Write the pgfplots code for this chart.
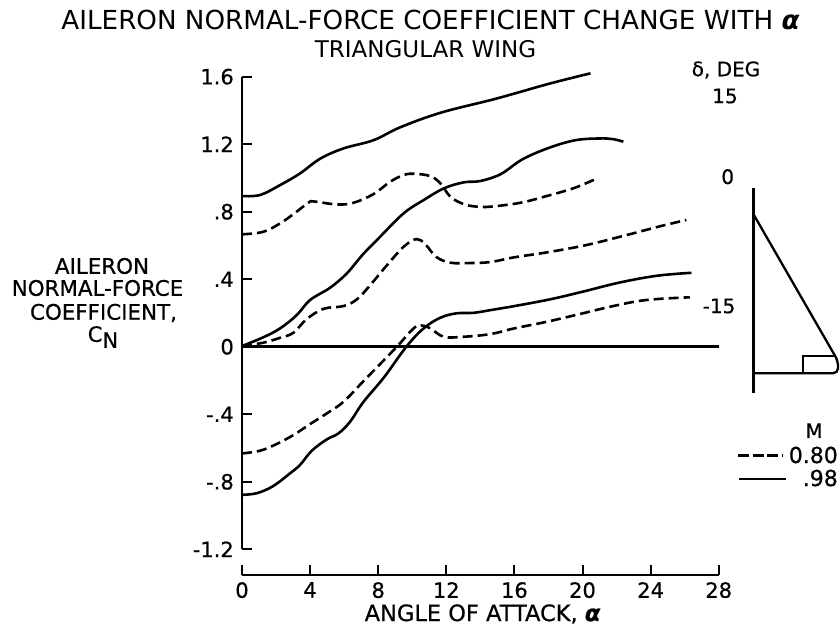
\documentclass[border=0pt]{standalone}
\usepackage{pgfplots}
\pgfplotsset{compat=1.18}
\usepackage{fontspec}
\setmainfont{DejaVu Sans}
\newfontfamily\hv[FakeBold=0.6]{DejaVu Sans}
\newcommand{\al}{{\bfseries\itshape α}}
\tikzset{px/.style={inner sep=0pt,font=\hv\fontsize{20}{22}\selectfont,anchor=center}}
\newcommand{\PX}[3]{\node[px] at (#1pt,{631pt-#2pt}) {#3};}
\begin{document}
\begin{tikzpicture}[x=1pt,y=1pt]
\path[use as bounding box] (0pt,0pt) rectangle (840pt,631pt);
\begin{axis}[
  at={(242pt,81.7pt)},anchor=south west,scale only axis,width=476.7pt,height=472.6pt,
  xmin=0,xmax=28,ymin=-1.2,ymax=1.6,
  axis y line=left,axis x line=none,axis line style={-,line width=2.6pt},
  ytick={-1.2,-0.8,-0.4,0,0.4,0.8,1.2,1.6},
  yticklabels={-1.2,-.8,-.4,0,.4,.8,1.2,1.6},
  tick align=inside,major tick length=10pt,
  tick style={line width=2pt,black},
  yticklabel style={font=\hv\fontsize{21}{22}\selectfont,inner sep=0pt,xshift=-8pt},
  clip=false,
  every axis plot/.append style={line width=2.6pt,black,no marks},
  sol/.style={smooth,tension=0.6},
  das/.style={smooth,tension=0.6,dash pattern=on 10pt off 5pt},
]
% zero line
\addplot[black] coordinates {(0,0) (28,0)};
% delta = 15, M = .98
\addplot[sol] coordinates {(0,.893) (1.06,.899) (2.24,.958) (3.41,1.027) (4.59,1.114) (5.96,1.175) (7.73,1.224) (9.29,1.30) (11.65,1.386) (14.59,1.461) (16.0,1.50) (18.1,1.56) (20.47,1.62)};
% delta = 15, M = .80
\addplot[das] coordinates {(0,.666) (1.25,.681) (2.24,.731) (3.02,.786) (3.9,.853) (4.2,.861) (5.57,.843) (6.55,.853) (7.73,.905) (8.71,.978) (9.49,1.017) (10.08,1.025) (11.06,1.011) (11.65,.968) (12.24,.889) (13.02,.845) (13.8,.83) (14.59,.83) (16.35,.853) (17.9,.893) (19.5,.94) (20.8,.995)};
% delta = 0, M = .98
\addplot[sol] coordinates {(0,.004) (1.25,.056) (2.24,.109) (3.22,.188) (4.0,.277) (5.18,.35) (6.16,.435) (7.1,.547) (8.0,.64) (9.49,.79) (10.67,.869) (11.85,.938) (13.02,.974) (14,.982) (15.2,1.023) (16.5,1.112) (18.1,1.181) (19.6,1.224) (21,1.234) (21.8,1.23) (22.4,1.215)};
% delta = 0, M = .80
\addplot[das] coordinates {(0,.004) (1.25,.024) (2.24,.053) (3.02,.083) (3.8,.164) (4.8,.225) (5.96,.241) (6.75,.281) (7.53,.365) (8.52,.484) (9.49,.592) (10.24,.638) (10.76,.608) (11.4,.533) (12.24,.498) (13.4,.496) (14.59,.502) (16,.53) (17.9,.559) (20.2,.602) (22.6,.662) (24.6,.715) (26.1,.751)};
% delta = -15, M = .98
\addplot[sol] coordinates {(0,-.877) (.86,-.868) (1.84,-.825) (2.82,-.75) (3.41,-.70) (4.1,-.616) (4.98,-.549) (5.67,-.513) (6.35,-.444) (7.14,-.326) (8.35,-.18) (9.65,0) (10.67,.109) (11.65,.172) (12.6,.198) (13.6,.201) (14.59,.217) (16,.241) (18.1,.281) (20,.326) (22.2,.381) (24.4,.421) (26.4,.438)};
% delta = -15, M = .80
\addplot[das] coordinates {(0,-.632) (1.06,-.616) (2.04,-.576) (3.02,-.523) (4,-.458) (4.98,-.395) (5.96,-.326) (7.2,-.197) (9,-.01) (10.08,.109) (10.5,.127) (11.06,.109) (11.85,.059) (13,.059) (14.59,.075) (16,.109) (17.9,.148) (19.85,.194) (21.8,.241) (23.75,.277) (26.3,.293)};
\end{axis}
\begin{axis}[
  at={(242pt,56pt)},anchor=south west,scale only axis,width=476.7pt,height=10pt,
  xmin=0,xmax=28,ymin=0,ymax=1,
  axis x line=bottom,axis y line=none,axis line style={-,line width=2.6pt},
  xtick={0,4,...,28},
  xticklabels={0,4,8,12,16,20,24,28},
  tick align=inside,major tick length=10pt,
  tick style={line width=2pt,black},
  xticklabel style={font=\hv\fontsize{21}{22}\selectfont,inner sep=0pt,yshift=-7pt},
  xlabel={},
  clip=false,
]
\addplot[draw=none] coordinates {(0,0) (28,1)};
\end{axis}
% titles
\node[px,font=\fontsize{26.2}{28}\selectfont] at (430.5pt,{631pt-20pt}) {AILERON NORMAL-FORCE COEFFICIENT CHANGE WITH \al};
\node[px,font=\fontsize{23}{24}\selectfont] at (425.5pt,{631pt-49pt}) {TRIANGULAR WING};
\node[px,font=\hv\fontsize{22.5}{24}\selectfont] at (482.5pt,{631pt-614pt}) {ANGLE OF ATTACK, \al};
% y label
\node[px,font=\hv\fontsize{21.4}{24}\selectfont] at (102pt,{631pt-266pt}) {AILERON};
\node[px,font=\hv\fontsize{21.4}{24}\selectfont] at (97.5pt,{631pt-288pt}) {NORMAL-FORCE};
\node[px,font=\hv\fontsize{21.4}{24}\selectfont] at (103.5pt,{631pt-313pt}) {COEFFICIENT,};
\node[px,font=\hv\fontsize{21}{24}\selectfont] at (103pt,{631pt-337pt}) {C\raisebox{-6pt}{N}};
% delta labels
\PX{726}{70}{δ, DEG}
\PX{725}{96}{15}
\PX{727.7}{176.7}{0}
\PX{719}{306}{-15}
% wing sketch
\draw[line width=2.6pt] (753.3pt,{631pt-188.3pt}) -- (753.3pt,{631pt-392.7pt});
\draw[line width=2.3pt,rounded corners=5pt] (753.3pt,{631pt-214pt}) -- (838pt,{631pt-361pt}) -- (838pt,{631pt-373.3pt}) -- (753.3pt,{631pt-373.3pt});
\draw[line width=2.3pt] (803.3pt,{631pt-373.3pt}) -- (803.3pt,{631pt-356pt}) -- (835pt,{631pt-356pt});
% M legend
\PX{814}{430.7}{M}
\node[px,anchor=east,font=\hv\fontsize{22}{24}\selectfont] at (838pt,{631pt-455pt}) {0.80};
\node[px,anchor=east,font=\hv\fontsize{22}{24}\selectfont] at (838pt,{631pt-478pt}) {.98};
\draw[line width=2.6pt,dash pattern=on 11pt off 3.5pt] (738pt,{631pt-455.7pt}) -- (783pt,{631pt-455.7pt});
\draw[line width=2.6pt] (739pt,{631pt-479pt}) -- (785.7pt,{631pt-479pt});
\end{tikzpicture}
\end{document}
